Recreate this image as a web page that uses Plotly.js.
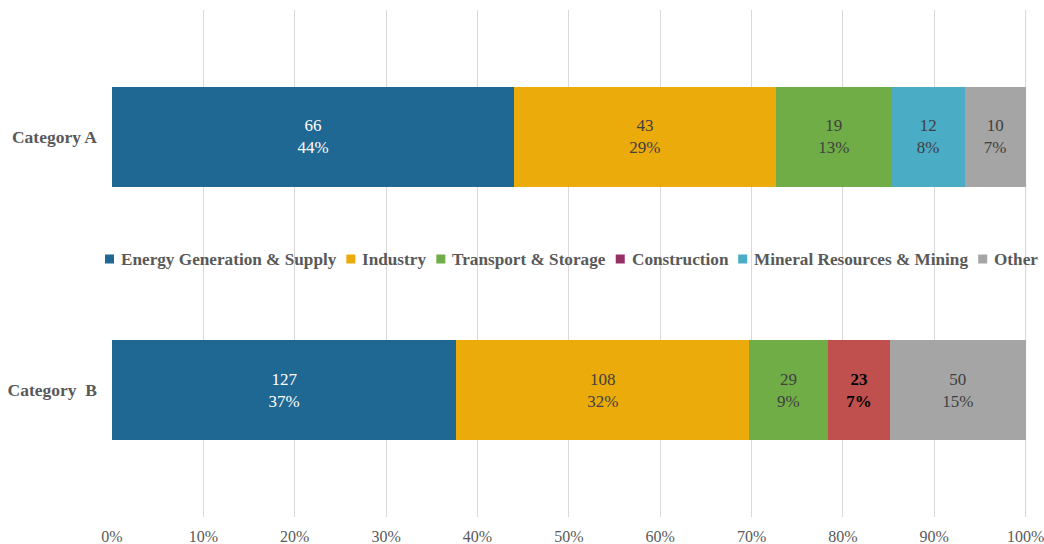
<!DOCTYPE html>
<html>
<head>
<meta charset="utf-8">
<script src="https://cdn.plot.ly/plotly-3.0.1.min.js"></script>
<style>html,body{margin:0;padding:0;background:#fff;}#chart{width:1044px;height:544px;}</style>
</head>
<body>
<div id="chart"></div>
<script>
const categories = ['Category A', 'Category\u00a0\u00a0B'];
const seriesNames = ['Energy Generation & Supply', 'Industry', 'Transport & Storage', 'Construction', 'Mineral Resources & Mining', 'Other'];
const energy = [66, 127];
const industry = [43, 108];
const transport = [19, 29];
const construction = [0, 23];
const mineral = [12, 0];
const other = [10, 50];
const energyPct = ['44%', '37%'];
const industryPct = ['29%', '32%'];
const transportPct = ['13%', '9%'];
const constructionPct = ['', '7%'];
const mineralPct = ['8%', ''];
const otherPct = ['7%', '15%'];
const xTickVals = [0, 10, 20, 30, 40, 50, 60, 70, 80, 90, 100];
const xTickText = ['0%', '10%', '20%', '30%', '40%', '50%', '60%', '70%', '80%', '90%', '100%'];

const seriesValues = [energy, industry, transport, construction, mineral, other];
const seriesPct = [energyPct, industryPct, transportPct, constructionPct, mineralPct, otherPct];
const legendColors = ['#1F6893', '#EBAB0A', '#70AD47', '#953064', '#4BACC6', '#A5A5A5'];
const barColors = [
  '#1F6893',
  '#EBAB0A',
  '#70AD47',
  ['#953064', '#C0504D'],
  '#4BACC6',
  '#A5A5A5'
];
const textColors = ['#FFFFFF', '#404040', '#404040', '#000000', '#404040', '#404040'];

const FONT = '"Liberation Serif", "DejaVu Serif", serif';
const W = 1044, H = 544;
const M = {l: 112, r: 17, t: 10, b: 27};
const PW = W - M.l - M.r, PH = H - M.t - M.b;

const traces = seriesNames.map((name, i) => {
  const vals = seriesValues[i];
  const bold = name === 'Construction';
  const text = vals.map((v, j) => v > 0 ? (bold ? '<b>' + v + '<br>' + seriesPct[i][j] + '</b>' : v + '<br>' + seriesPct[i][j]) : '');
  return {
    type: 'bar',
    orientation: 'h',
    name: name,
    y: categories,
    x: vals,
    text: text,
    textposition: 'inside',
    insidetextanchor: 'middle',
    textangle: 0,
    constraintext: 'none',
    textfont: {family: FONT, size: 17, color: textColors[i]},
    marker: {color: barColors[i], line: {width: 0}},
    showlegend: false,
    hoverinfo: 'name+x'
  };
});

// Custom single-row legend (Excel-like compact spacing)
const legendFontSize = 17.2;
const canvas = document.createElement('canvas');
const ctx = canvas.getContext('2d');
ctx.font = 'bold ' + legendFontSize + 'px "Liberation Serif"';
const annotations = [];
const shapes = [];
let cursor = 105; // px from left edge of page
const sq = 9, gapAfterSq = 5, gapAfterText = 12;
const legendYpx = 259;
const legendY = (H - M.b - legendYpx) / PH;
seriesNames.forEach((name, i) => {
  const x0 = (cursor - M.l) / PW, x1 = (cursor + sq - M.l) / PW;
  shapes.push({
    type: 'rect', xref: 'paper', yref: 'paper', layer: 'above',
    x0: x0, x1: x1, y0: legendY - (sq / 2) / PH, y1: legendY + (sq / 2) / PH,
    fillcolor: legendColors[i], line: {width: 0}
  });
  cursor += sq + gapAfterSq;
  annotations.push({
    xref: 'paper', yref: 'paper', x: (cursor - M.l) / PW, y: legendY,
    xanchor: 'left', yanchor: 'middle', showarrow: false,
    text: '<b>' + name.replace('&', '&amp;') + '</b>',
    font: {family: FONT, size: legendFontSize, color: '#595959'}
  });
  cursor += ctx.measureText(name).width + gapAfterText;
});
// gridline at the last tick (Plotly drops grid lines sitting on the plot edge)
shapes.push({
  type: 'line', xref: 'x', yref: 'paper', layer: 'below',
  x0: xTickVals[xTickVals.length - 1], x1: xTickVals[xTickVals.length - 1], y0: 0, y1: 1,
  line: {color: '#D9D9D9', width: 1}
});

const layout = {
  width: W,
  height: H,
  margin: M,
  paper_bgcolor: '#FFFFFF',
  plot_bgcolor: '#FFFFFF',
  barmode: 'stack',
  barnorm: 'percent',
  bargap: 0.605,
  showlegend: false,
  annotations: annotations,
  shapes: shapes,
  xaxis: {
    range: [0, 100.15],
    tickvals: xTickVals,
    ticktext: xTickText,
    showgrid: true,
    gridcolor: '#D9D9D9',
    gridwidth: 1,
    zeroline: false,
    showline: false,
    ticks: '',
    ticklabelstandoff: 8,
    ticklabeloverflow: 'allow',
    tickfont: {family: FONT, size: 16, color: '#595959'},
    fixedrange: true
  },
  yaxis: {
    autorange: 'reversed',
    showgrid: false,
    zeroline: false,
    showline: false,
    ticks: '',
    ticklabelstandoff: 14,
    tickfont: {family: FONT, size: 17.5, color: '#595959', weight: 'bold'},
    fixedrange: true
  }
};

Plotly.newPlot('chart', traces, layout, {displayModeBar: false, staticPlot: true});
</script>
</body>
</html>
